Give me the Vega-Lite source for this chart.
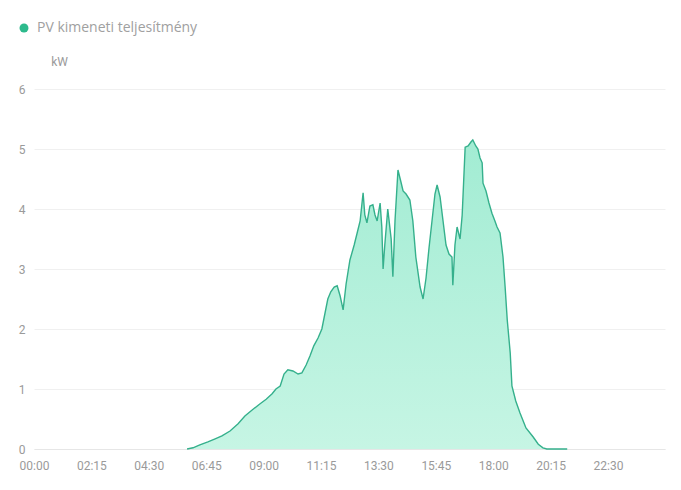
{
  "$schema": "https://vega.github.io/schema/vega-lite/v6.json",
  "width": 631,
  "height": 360,
  "autosize": {"type": "none"},
  "padding": {"left": 34, "top": 89, "right": 16, "bottom": 41},
  "background": "#ffffff",
  "config": {
    "view": {"stroke": null},
    "font": "Roboto",
    "axis": {"labelFont": "Roboto", "titleFont": "Roboto"}
  },
  "data": {
    "values": [
      {"time": "06:00", "power": 0},
      {"time": "06:14", "power": 0.02},
      {"time": "06:30", "power": 0.07},
      {"time": "06:49", "power": 0.12},
      {"time": "07:06", "power": 0.17},
      {"time": "07:22", "power": 0.22},
      {"time": "07:41", "power": 0.3},
      {"time": "08:00", "power": 0.42},
      {"time": "08:16", "power": 0.55},
      {"time": "08:33", "power": 0.65},
      {"time": "08:51", "power": 0.75},
      {"time": "09:06", "power": 0.83},
      {"time": "09:20", "power": 0.92},
      {"time": "09:29", "power": 1.0},
      {"time": "09:39", "power": 1.05},
      {"time": "09:48", "power": 1.25},
      {"time": "09:57", "power": 1.32},
      {"time": "10:09", "power": 1.3},
      {"time": "10:21", "power": 1.25},
      {"time": "10:30", "power": 1.27},
      {"time": "10:40", "power": 1.4},
      {"time": "10:49", "power": 1.55},
      {"time": "10:58", "power": 1.72},
      {"time": "11:08", "power": 1.85},
      {"time": "11:17", "power": 2.0},
      {"time": "11:24", "power": 2.25},
      {"time": "11:31", "power": 2.5},
      {"time": "11:38", "power": 2.62},
      {"time": "11:46", "power": 2.7},
      {"time": "11:53", "power": 2.72},
      {"time": "12:00", "power": 2.55},
      {"time": "12:07", "power": 2.32},
      {"time": "12:14", "power": 2.75},
      {"time": "12:23", "power": 3.15},
      {"time": "12:33", "power": 3.4},
      {"time": "12:40", "power": 3.6},
      {"time": "12:47", "power": 3.8},
      {"time": "12:54", "power": 4.27},
      {"time": "12:58", "power": 3.9},
      {"time": "13:03", "power": 3.77},
      {"time": "13:10", "power": 4.05},
      {"time": "13:17", "power": 4.07},
      {"time": "13:22", "power": 3.9},
      {"time": "13:27", "power": 3.8},
      {"time": "13:34", "power": 4.1},
      {"time": "13:38", "power": 3.7},
      {"time": "13:41", "power": 3.0},
      {"time": "13:45", "power": 3.4},
      {"time": "13:52", "power": 4.0},
      {"time": "14:00", "power": 3.5},
      {"time": "14:04", "power": 2.87},
      {"time": "14:09", "power": 3.8},
      {"time": "14:16", "power": 4.65},
      {"time": "14:23", "power": 4.45},
      {"time": "14:28", "power": 4.3},
      {"time": "14:35", "power": 4.25},
      {"time": "14:44", "power": 4.15},
      {"time": "14:51", "power": 3.8},
      {"time": "14:58", "power": 3.2},
      {"time": "15:08", "power": 2.7},
      {"time": "15:15", "power": 2.5},
      {"time": "15:22", "power": 2.85},
      {"time": "15:29", "power": 3.35},
      {"time": "15:36", "power": 3.8},
      {"time": "15:43", "power": 4.25},
      {"time": "15:48", "power": 4.4},
      {"time": "15:55", "power": 4.2},
      {"time": "16:02", "power": 3.8},
      {"time": "16:09", "power": 3.4},
      {"time": "16:16", "power": 3.25},
      {"time": "16:23", "power": 3.2},
      {"time": "16:25", "power": 2.73},
      {"time": "16:30", "power": 3.4},
      {"time": "16:35", "power": 3.7},
      {"time": "16:42", "power": 3.5},
      {"time": "16:47", "power": 3.9},
      {"time": "16:54", "power": 5.03},
      {"time": "17:01", "power": 5.05},
      {"time": "17:08", "power": 5.12},
      {"time": "17:12", "power": 5.15},
      {"time": "17:19", "power": 5.05},
      {"time": "17:24", "power": 5.0},
      {"time": "17:29", "power": 4.85},
      {"time": "17:34", "power": 4.77},
      {"time": "17:36", "power": 4.43},
      {"time": "17:43", "power": 4.3},
      {"time": "17:50", "power": 4.1},
      {"time": "17:57", "power": 3.93},
      {"time": "18:04", "power": 3.8},
      {"time": "18:09", "power": 3.7},
      {"time": "18:16", "power": 3.6},
      {"time": "18:23", "power": 3.2},
      {"time": "18:28", "power": 2.7},
      {"time": "18:33", "power": 2.15},
      {"time": "18:40", "power": 1.6},
      {"time": "18:44", "power": 1.05},
      {"time": "18:53", "power": 0.8},
      {"time": "19:03", "power": 0.6},
      {"time": "19:17", "power": 0.35},
      {"time": "19:34", "power": 0.2},
      {"time": "19:46", "power": 0.08},
      {"time": "19:57", "power": 0.02},
      {"time": "20:06", "power": 0},
      {"time": "20:54", "power": 0}
    ],
    "format": {"parse": {"time": "utc:'%H:%M'"}}
  },
  "encoding": {
    "x": {
      "field": "time",
      "type": "temporal",
      "scale": {
        "type": "utc",
        "domain": [
          {"year": 1900, "month": 1, "date": 1, "hours": 0, "minutes": 0, "utc": true},
          {"year": 1900, "month": 1, "date": 2, "hours": 0, "minutes": 44, "utc": true}
        ]
      },
      "axis": {
        "title": null,
        "labelExpr": "utcFormat(datum.value, '%H:%M')",
        "values": [
          {"year": 1900, "month": 1, "date": 1, "hours": 0, "minutes": 0, "utc": true},
          {"year": 1900, "month": 1, "date": 1, "hours": 2, "minutes": 15, "utc": true},
          {"year": 1900, "month": 1, "date": 1, "hours": 4, "minutes": 30, "utc": true},
          {"year": 1900, "month": 1, "date": 1, "hours": 6, "minutes": 45, "utc": true},
          {"year": 1900, "month": 1, "date": 1, "hours": 9, "minutes": 0, "utc": true},
          {"year": 1900, "month": 1, "date": 1, "hours": 11, "minutes": 15, "utc": true},
          {"year": 1900, "month": 1, "date": 1, "hours": 13, "minutes": 30, "utc": true},
          {"year": 1900, "month": 1, "date": 1, "hours": 15, "minutes": 45, "utc": true},
          {"year": 1900, "month": 1, "date": 1, "hours": 18, "minutes": 0, "utc": true},
          {"year": 1900, "month": 1, "date": 1, "hours": 20, "minutes": 15, "utc": true},
          {"year": 1900, "month": 1, "date": 1, "hours": 22, "minutes": 30, "utc": true}
        ],
        "grid": false,
        "ticks": false,
        "domain": true,
        "domainColor": "#e6e6e6",
        "labelColor": "#9a9a9a",
        "labelFontSize": 12,
        "labelPadding": 11,
        "labelFlush": false,
        "labelOverlap": false
      }
    },
    "y": {
      "field": "power",
      "type": "quantitative",
      "scale": {"domain": [0, 6]},
      "axis": {
        "title": "kW",
        "titleAngle": 0,
        "titleX": 25,
        "titleY": -28,
        "titleAlign": "center",
        "titleBaseline": "middle",
        "titleColor": "#9a9a9a",
        "titleFontSize": 12,
        "titleFontWeight": "normal",
        "values": [0, 1, 2, 3, 4, 5, 6],
        "format": "d",
        "grid": true,
        "gridColor": "#f0f0f0",
        "ticks": false,
        "domain": false,
        "labelColor": "#9a9a9a",
        "labelFontSize": 12,
        "labelPadding": 9
      }
    }
  },
  "layer": [
    {
      "mark": {
        "type": "area",
        "interpolate": "linear",
        "fill": {
          "gradient": "linear",
          "x1": 0, "y1": 0, "x2": 0, "y2": 1,
          "stops": [
            {"offset": 0, "color": "#a2ecd3"},
            {"offset": 1, "color": "#c6f5e4"}
          ]
        }
      }
    },
    {
      "mark": {"type": "line", "interpolate": "linear", "strokeWidth": 1.4},
      "encoding": {
        "color": {
          "datum": "PV kimeneti teljesítmény",
          "scale": {"range": ["#35b08c"]},
          "legend": {
            "title": null,
            "orient": "none",
            "legendX": -17,
            "legendY": -68,
            "padding": 0,
            "symbolType": "circle",
            "symbolSize": 80,
            "symbolFillColor": "#2dba8c",
            "symbolStrokeColor": "#2dba8c",
            "symbolStrokeWidth": 0,
            "labelColor": "#a0a0a0",
            "labelFontSize": 14,
            "labelFont": "Open Sans",
            "labelLimit": 400,
            "labelOffset": 6
          }
        }
      }
    }
  ]
}
